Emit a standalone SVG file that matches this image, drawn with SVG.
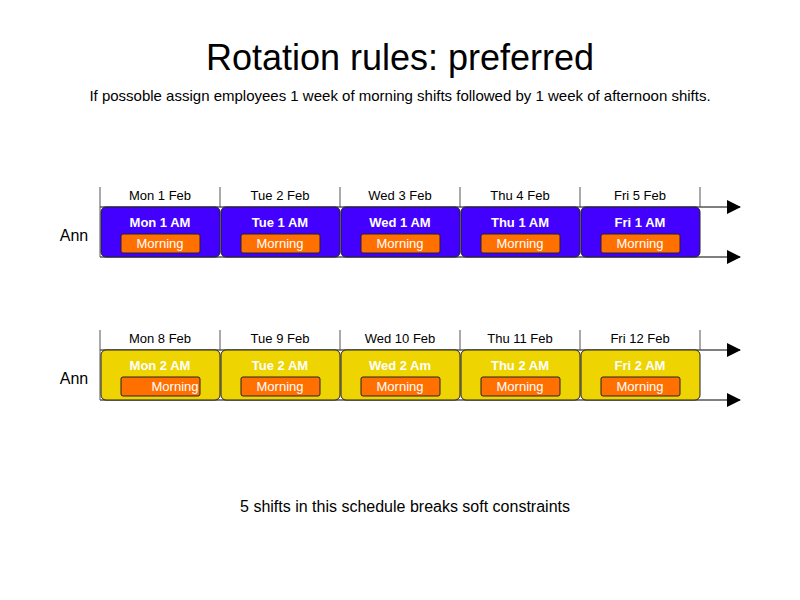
<svg xmlns="http://www.w3.org/2000/svg" width="800" height="600" viewBox="0 0 800 600">
<style>
text{font-family:"Liberation Sans",Arial,sans-serif}
.day{font-size:13px;text-anchor:middle;fill:#000}
.sh{font-size:13px;font-weight:bold;fill:#fff;text-anchor:middle}
.m{font-size:13px;fill:#fff;text-anchor:middle}
.b{fill:#4400ff;stroke:#222;stroke-width:1}
.y{fill:#eed400;stroke:#222;stroke-width:1}
.o{fill:#ff7000;stroke:#222;stroke-width:1}
.ax{stroke:#000;stroke-width:1;fill:none}
.tk{stroke:#555;stroke-width:1}
</style>
<defs><marker id="a" markerWidth="14" markerHeight="14" refX="13" refY="7" orient="auto" markerUnits="userSpaceOnUse"><path d="M0,0L14,7L0,14z" fill="#000"/></marker></defs>
<text x="400" y="70" font-size="36" text-anchor="middle">Rotation rules: preferred</text>
<text x="400" y="101" font-size="15" text-anchor="middle">If possoble assign employees 1 week of morning shifts followed by 1 week of afternoon shifts.</text>
<text x="74" y="241" font-size="16" text-anchor="middle">Ann</text>
<text x="74" y="384" font-size="16" text-anchor="middle">Ann</text>
<g id="connectors">
<line class="ax" x1="100" y1="207" x2="740" y2="207" marker-end="url(#a)"/>
<line class="ax" x1="100" y1="257" x2="740" y2="257" marker-end="url(#a)"/>
<line class="ax" x1="100" y1="350" x2="740" y2="350" marker-end="url(#a)"/>
<line class="ax" x1="100" y1="400" x2="740" y2="400" marker-end="url(#a)"/>
<path class="tk" d="M100,187V257M220,187V207M340,187V207M460,187V207M580,187V207M700,187V207M100,330V400M220,330V350M340,330V350M460,330V350M580,330V350M700,330V350"/>
</g>
<g id="days1">
<text class="day" x="160" y="200">Mon 1 Feb</text><text class="day" x="280" y="200">Tue 2 Feb</text><text class="day" x="400" y="200">Wed 3 Feb</text><text class="day" x="520" y="200">Thu 4 Feb</text><text class="day" x="640" y="200">Fri 5 Feb</text>
</g>
<g id="days2">
<text class="day" x="160" y="343">Mon 8 Feb</text><text class="day" x="280" y="343">Tue 9 Feb</text><text class="day" x="400" y="343">Wed 10 Feb</text><text class="day" x="520" y="343">Thu 11 Feb</text><text class="day" x="640" y="343">Fri 12 Feb</text>
</g>
<g id="mon1"><rect class="b" x="101" y="207" width="119" height="50" rx="5"/><text class="sh" x="160" y="227">Mon 1 AM</text><rect class="o" x="121" y="234" width="79" height="19" rx="2"/><text class="m" x="160" y="248">Morning</text></g>
<g id="tue1"><rect class="b" x="221" y="207" width="119" height="50" rx="5"/><text class="sh" x="280" y="227">Tue 1 AM</text><rect class="o" x="241" y="234" width="79" height="19" rx="2"/><text class="m" x="280" y="248">Morning</text></g>
<g id="wed1"><rect class="b" x="341" y="207" width="119" height="50" rx="5"/><text class="sh" x="400" y="227">Wed 1 AM</text><rect class="o" x="361" y="234" width="79" height="19" rx="2"/><text class="m" x="400" y="248">Morning</text></g>
<g id="thu1"><rect class="b" x="461" y="207" width="119" height="50" rx="5"/><text class="sh" x="520" y="227">Thu 1 AM</text><rect class="o" x="481" y="234" width="79" height="19" rx="2"/><text class="m" x="520" y="248">Morning</text></g>
<g id="fri1"><rect class="b" x="581" y="207" width="119" height="50" rx="5"/><text class="sh" x="640" y="227">Fri 1 AM</text><rect class="o" x="601" y="234" width="79" height="19" rx="2"/><text class="m" x="640" y="248">Morning</text></g>
<g id="mon2"><rect class="y" x="101" y="350" width="119" height="50" rx="5"/><text class="sh" x="160" y="370">Mon 2 AM</text><rect class="o" x="121" y="377" width="79" height="19" rx="2"/><text class="m" x="175" y="391">Morning</text></g>
<g id="tue2"><rect class="y" x="221" y="350" width="119" height="50" rx="5"/><text class="sh" x="280" y="370">Tue 2 AM</text><rect class="o" x="241" y="377" width="79" height="19" rx="2"/><text class="m" x="280" y="391">Morning</text></g>
<g id="wed2"><rect class="y" x="341" y="350" width="119" height="50" rx="5"/><text class="sh" x="400" y="370">Wed 2 Am</text><rect class="o" x="361" y="377" width="79" height="19" rx="2"/><text class="m" x="400" y="391">Morning</text></g>
<g id="thu2"><rect class="y" x="461" y="350" width="119" height="50" rx="5"/><text class="sh" x="520" y="370">Thu 2 AM</text><rect class="o" x="481" y="377" width="79" height="19" rx="2"/><text class="m" x="520" y="391">Morning</text></g>
<g id="fri2"><rect class="y" x="581" y="350" width="119" height="50" rx="5"/><text class="sh" x="640" y="370">Fri 2 AM</text><rect class="o" x="601" y="377" width="79" height="19" rx="2"/><text class="m" x="640" y="391">Morning</text></g>
<text x="405" y="512" font-size="16" text-anchor="middle">5 shifts in this schedule breaks soft constraints</text>
</svg>
